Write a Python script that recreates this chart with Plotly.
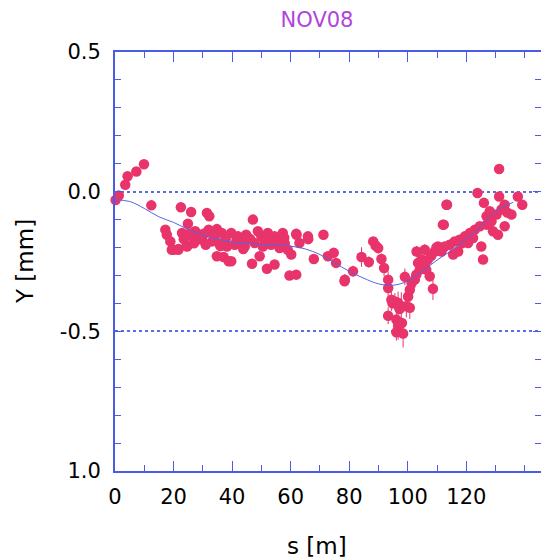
import plotly.graph_objects as go

title_text = "NOV08"
x_title = "s [m]"
y_title = "Y [mm]"

# measured points: s [m], Y [mm], error [mm]
s_pts = [1.3, 3.5, 4.3, 7.3, 9.9, 12.4, 22.5, 26.0, 31.4, 32.2,
         17.2, 17.7, 18.9, 20.0, 21.7, 24.6, 24.9, 22.9, 27.4, 26.3,
         29.1, 29.7, 32.0, 33.1, 34.8, 36.5, 34.8, 37.1, 38.8, 38.2,
         47.1, 39.7, 42.0, 44.8, 48.8, 52.2, 54.5, 57.3, 61.9, 65.9,
         71.2, 40.9, 44.3, 47.7, 50.5, 53.3, 56.2, 59.0, 60.2, 39.7,
         46.8, 49.4, 51.9, 54.5, 59.6, 61.9, 67.9, 72.7, 74.7, 75.5,
         78.4, 63.0, 56.8, 43.1, 51.1, 24.5, 19.4, 21.6, 66.0, 62.0,
         28.0, 30.5, 35.5, 41.5, 45.5, 50.0, 55.5, 58.0, 23.5, 27.0,
         33.8, 37.8, 42.8, 46.2, 52.8, 57.8, 36.0, 31.0, 25.5, 43.8,
         78.5, 81.3, 84.2, 86.7, 88.2, 89.0, 89.9, 91.0, 91.9, 93.3,
         93.3, 94.4, 95.6, 96.7, 97.8, 93.3, 96.1, 96.7, 96.1, 98.4,
         99.5, 100.7, 100.1, 100.7, 99.0, 101.3, 102.4, 102.9, 104.1, 103.5,
         104.7, 105.8, 103.0, 105.8, 106.3, 107.5, 108.6, 109.2, 110.3, 111.5,
         112.0, 113.2, 109.8, 131.2, 123.8, 131.2, 137.6, 139.1, 113.4, 126.0,
         133.1, 132.0, 135.4, 130.3, 128.6, 126.9, 124.6, 122.9, 121.2, 129.1,
         130.8, 133.1, 119.5, 117.7, 116.0, 114.3, 112.6, 110.9, 120.6, 122.3,
         115.5, 117.2, 125.1, 125.7, 112.3, 126.9, 128.0, 108.0, 106.8, 118.5,
         121.8, 127.8, 134.0, 97.2, 94.8, 98.0, 0.2]
y_pts = [-0.014, 0.025, 0.055, 0.072, 0.098, -0.049, -0.056, -0.073, -0.076, -0.088,
         -0.136, -0.154, -0.178, -0.208, -0.205, -0.196, -0.115, -0.148, -0.142, -0.160,
         -0.154, -0.172, -0.136, -0.178, -0.134, -0.148, -0.231, -0.234, -0.249, -0.196,
         -0.100, -0.148, -0.160, -0.154, -0.142, -0.148, -0.160, -0.148, -0.151, -0.160,
         -0.154, -0.190, -0.196, -0.184, -0.196, -0.190, -0.202, -0.208, -0.225, -0.249,
         -0.258, -0.231, -0.276, -0.261, -0.300, -0.297, -0.241, -0.231, -0.219, -0.255,
         -0.321, -0.184, -0.178, -0.172, -0.172, -0.193, -0.208, -0.208, -0.170, -0.154,
         -0.165, -0.150, -0.185, -0.175, -0.165, -0.160, -0.175, -0.185, -0.170, -0.185,
         -0.160, -0.170, -0.185, -0.170, -0.180, -0.165, -0.195, -0.190, -0.150, -0.205,
         -0.315, -0.285, -0.234, -0.252, -0.178, -0.193, -0.202, -0.241, -0.273, -0.315,
         -0.345, -0.387, -0.393, -0.398, -0.410, -0.444, -0.458, -0.480, -0.503, -0.508,
         -0.410, -0.416, -0.375, -0.351, -0.305, -0.327, -0.315, -0.297, -0.279, -0.255,
         -0.243, -0.261, -0.214, -0.208, -0.279, -0.303, -0.348, -0.214, -0.196, -0.214,
         -0.118, -0.047, -0.200, 0.081, -0.005, -0.017, -0.017, -0.047, -0.047, -0.040,
         -0.047, -0.064, -0.082, -0.082, -0.106, -0.118, -0.124, -0.136, -0.148, -0.142,
         -0.154, -0.124, -0.160, -0.172, -0.178, -0.190, -0.196, -0.208, -0.184, -0.166,
         -0.225, -0.214, -0.196, -0.243, -0.118, -0.088, -0.070, -0.230, -0.245, -0.185,
         -0.150, -0.110, -0.075, -0.420, -0.400, -0.470, -0.030]
err_pts = [0.01] * 90 + [0.02, 0.02, 0.035, 0.02, 0.015, 0.015, 0.02, 0.02, 0.03, 0.03,
                         0.03, 0.04, 0.03, 0.04, 0.05, 0.03, 0.04, 0.05, 0.03, 0.05,
                         0.04, 0.04, 0.03, 0.03, 0.03, 0.03, 0.03, 0.02, 0.02, 0.02,
                         0.02, 0.02, 0.02, 0.02, 0.02, 0.02, 0.04, 0.02, 0.015, 0.015,
                         0.015, 0.015, 0.015]
err_pts = err_pts + [0.01] * (len(s_pts) - len(err_pts))

# fitted orbit curve
s_fit = [0, 5, 10, 15, 20, 25, 30, 35, 40, 45, 50, 55, 60, 65, 70, 75, 80,
         85, 90, 95, 100, 105, 110, 115, 120, 125, 130, 136]
y_fit = [-0.03, -0.035, -0.06, -0.09, -0.11, -0.135, -0.155, -0.17, -0.18, -0.185,
         -0.19, -0.19, -0.195, -0.205, -0.225, -0.255, -0.285, -0.31, -0.33, -0.335,
         -0.32, -0.285, -0.245, -0.21, -0.17, -0.125, -0.07, -0.038]

y_tickvals = [-1.0, -0.5, 0.0, 0.5]
y_ticktext = ["1.0", "-0.5", "0.0", "0.5"]
x_tickvals = [0, 20, 40, 60, 80, 100, 120]

frame = "#4a5be6"
grid = "#5b6cf0"
pink = "#e8336b"

fig = go.Figure()
fig.add_trace(go.Scatter(
    x=s_pts, y=y_pts, mode="markers",
    marker=dict(color=pink, size=10.5, line=dict(width=0)),
    error_y=dict(type="data", array=err_pts, color=pink, thickness=1, width=0),
    cliponaxis=False, showlegend=False))
fig.add_trace(go.Scatter(
    x=s_fit, y=y_fit, mode="lines", line=dict(color="#5566e0", width=1, shape="spline"),
    showlegend=False))

fig.update_layout(
    width=541, height=559,
    margin=dict(l=115, r=0, t=52, b=88, autoexpand=False),
    paper_bgcolor="white", plot_bgcolor="white",
    font=dict(family="DejaVu Sans", size=21, color="black"),
    title=dict(text=title_text, x=317 / 541, xanchor="center", y=1 - 20 / 559, yanchor="middle",
               xref="container", yref="container",
               font=dict(color="#b044e0", size=21, family="DejaVu Sans")),
    annotations=[
        dict(text=x_title, xref="paper", yref="paper", x=(317 - 115) / 426, y=(471 - 546) / 419,
             xanchor="center", yanchor="middle", showarrow=False,
             font=dict(size=23, family="DejaVu Sans")),
        dict(text=y_title, xref="paper", yref="paper", x=(25 - 115) / 426, y=(471 - 262) / 419,
             xanchor="center", yanchor="middle", showarrow=False, textangle=-90,
             font=dict(size=23, family="DejaVu Sans")),
    ],
)
fig.update_xaxes(
    range=[0, 145.5], tickvals=x_tickvals, ticks="inside", ticklen=10, tickwidth=1,
    tickcolor=frame, showline=True, linecolor=frame, linewidth=2, mirror="allticks",
    showgrid=False, zeroline=False, ticklabelstandoff=6,
    minor=dict(dtick=10, tick0=0, ticks="inside", ticklen=6, tickcolor=frame, showgrid=False),
)
fig.update_yaxes(
    range=[-1.0, 0.5], tickvals=y_tickvals, ticktext=y_ticktext, ticks="inside",
    ticklen=8, tickwidth=1, tickcolor=frame, showline=True, linecolor=frame, linewidth=2,
    mirror="allticks", showgrid=True, gridcolor=grid, griddash="dot", gridwidth=1.5,
    zeroline=False, ticklabelstandoff=8,
    minor=dict(dtick=0.1, tick0=0, ticks="inside", ticklen=6, tickcolor=frame, showgrid=False),
)

fig.write_html("out.html")
